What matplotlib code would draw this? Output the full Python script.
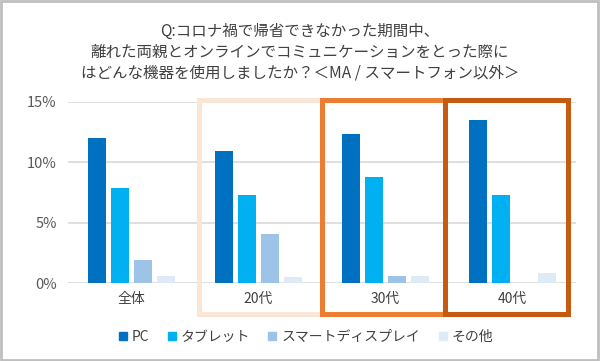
import matplotlib
matplotlib.use("Agg")
import matplotlib.pyplot as plt
from matplotlib.patches import Rectangle
from matplotlib.lines import Line2D
import numpy as np

plt.rcParams['font.family'] = ['Noto Sans CJK JP', 'DejaVu Sans']

TITLE = ("Q:コロナ禍で帰省できなかった期間中、\n"
         "離れた両親とオンラインでコミュニケーションをとった際に\n"
         "はどんな機器を使用しましたか？＜MA / スマートフォン以外＞")

categories = ["全体", "20代", "30代", "40代"]
series_names = ["PC", "タブレット", "スマートディスプレイ", "その他"]
pc = [12.0, 10.9, 12.3, 13.5]
tablet = [7.9, 7.3, 8.8, 7.3]
smart_display = [1.9, 4.1, 0.6, 0.0]
other = [0.6, 0.5, 0.6, 0.9]
yticks = [0, 5, 10, 15]

colors = ["#0070C0", "#00B0F0", "#9DC3E6", "#DEEBF7"]
text_color = "#404040"

fig = plt.figure(figsize=(6.0, 3.61), dpi=100)
ax = fig.add_axes([0.1133, 0.2147, 0.8467, 0.5036])

x = np.arange(len(categories))
step = 0.181
width = 0.142
for i, (vals, col) in enumerate(zip([pc, tablet, smart_display, other], colors)):
    ax.bar(x + (i - 1.5) * step, vals, width, color=col, zorder=3)

ax.set_xlim(-0.5, 3.5)
ax.set_ylim(0, 15)
ax.set_yticks(yticks)
ax.set_yticklabels([f"{v}%" for v in yticks], fontsize=10.5, color="#595959")
ax.set_xticks(x)
ax.set_xticklabels(categories, fontsize=10, color=text_color)
ax.tick_params(length=0, pad=8)
ax.tick_params(axis='x', pad=6)
ax.grid(axis='y', color="#D9D9D9", linewidth=1.2, zorder=0)
for s in ax.spines.values():
    s.set_visible(False)

# highlight boxes around age groups (x in data, y in axes fraction)
trans = ax.get_xaxis_transform()
boxes = [(0.53, 1.50, "#FBE5D6"), (1.50, 2.47, "#ED7D31"), (2.47, 3.44, "#C55A11")]
for x0, x1, col in boxes:
    ax.add_patch(Rectangle((x0, -0.168), x1 - x0, 1.18, transform=trans,
                           fill=False, edgecolor=col, linewidth=3.6,
                           clip_on=False, zorder=4))

fig.text(0.5, 0.855, TITLE, ha='center', va='center', fontsize=11.2,
         color=text_color, linespacing=1.28)

handles = [Line2D([], [], marker='s', linestyle='none', markersize=5.5,
                  color=c) for c in colors]
fig.legend(handles, series_names, loc='center', bbox_to_anchor=(0.51, 0.066),
           ncol=4, frameon=False, fontsize=10, handlelength=0.6,
           handletextpad=0.36, columnspacing=1.3, labelcolor=text_color)

# outer frame
fig.patches.append(Rectangle((0.002, 0.003), 0.995, 0.994, transform=fig.transFigure,
                             fill=False, edgecolor="#BFBFBF", linewidth=2))

fig.savefig("out.png", dpi=100)
